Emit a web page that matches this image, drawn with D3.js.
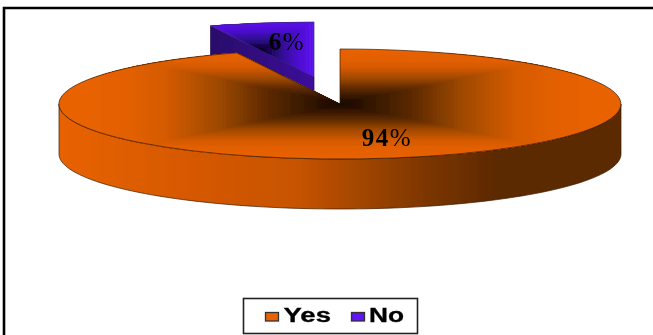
<!DOCTYPE html>
<html><head><meta charset="utf-8">
<script src="https://cdn.jsdelivr.net/npm/d3@7"></script>
<style>html,body{margin:0;padding:0;background:#fff}svg{display:block}</style>
</head><body><svg id="c" width="653" height="335"></svg>
<script>
const categories = ["Yes", "No"];
const values = [94, 6];
const labels = ["94%", "6%"];
const colors = ["#e86200", "#5f14f0"];
const W = 653, H = 335;
const cx = 340, cy = 104, rx = 281, ry = 55, depth = 50;
const noOffset = [-26, -27];

const svg = d3.select("#c");
const defs = svg.append("defs");
defs.append("filter").attr("id", "soft").attr("x", "-5%").attr("y", "-5%").attr("width", "110%").attr("height", "110%")
  .append("feGaussianBlur").attr("stdDeviation", 0.45);

// rectangular "path" shading: t = max(|x|/a, |y|/b)
const yesShade = d3.scaleLinear().domain([0, 0.1, 0.3, 0.5, 0.7, 0.85, 1])
  .range(["#140700", "#2c1300", "#5e2a00", "#a04a00", "#d45a00", "#e26000", "#e86200"]);
const noShade = d3.scaleLinear().domain([0, 0.15, 0.4, 0.7, 1])
  .range(["#0c0228", "#1c0658", "#340c96", "#4e10d0", "#5f14f0"]);
const sideShade = [[0, "#e86200"], [0.2, "#d85a00"], [0.42, "#c85300"], [0.52, "#a84800"], [0.66, "#7a3500"], [0.78, "#5c2900"], [1, "#5c2900"]];

const sl = defs.append("linearGradient").attr("id", "yesSide").attr("gradientUnits", "userSpaceOnUse")
  .attr("x1", -rx).attr("x2", rx).attr("y1", 0).attr("y2", 0);
sideShade.forEach(s => sl.append("stop").attr("offset", s[0]).attr("stop-color", s[1]));

const pie = d3.pie().value(d => d).sort(null);
const arcs = pie(values);
const arc = d3.arc().innerRadius(0).outerRadius(1);
const px = a => Math.sin(a) * rx, py = a => -Math.cos(a) * ry;
const lineFn = d3.line();

const nw = defs.append("linearGradient").attr("id", "noWall").attr("gradientUnits", "userSpaceOnUse")
  .attr("x1", px(arcs[1].startAngle)).attr("x2", 0).attr("y1", 0).attr("y2", 0);
[[0, "#280a68"], [1, "#3c0f9c"]].forEach(s => nw.append("stop").attr("offset", s[0]).attr("stop-color", s[1]));

function shadedSlice(g, d, id, shade, ccx, ccy, a, b, edge) {
  defs.append("clipPath").attr("id", id).append("path").attr("d", arc(d)).attr("transform", `scale(${rx},${ry})`);
  const inner = g.append("g").attr("clip-path", `url(#${id})`);
  inner.append("rect").attr("x", ccx - 2 * a).attr("y", ccy - 2 * b).attr("width", 4 * a).attr("height", 4 * b).attr("fill", shade(1));
  const steps = d3.range(1, 0, -1 / 70);
  inner.selectAll("rect.s").data(steps).join("rect").attr("class", "s")
    .attr("x", t => ccx - a * t).attr("y", t => ccy - b * t)
    .attr("width", t => 2 * a * t).attr("height", t => 2 * b * t)
    .attr("fill", t => shade(t));
  g.append("path").attr("d", arc(d)).attr("transform", `scale(${rx},${ry})`).attr("fill", "none")
    .attr("stroke", edge).attr("stroke-width", 0.7).attr("vector-effect", "non-scaling-stroke");
}

const chart = svg.append("g").attr("filter", "url(#soft)");

// No slice, pulled out of the pie
const no = arcs[1];
const g1 = chart.append("g").attr("transform", `translate(${cx + noOffset[0]},${cy + noOffset[1]})`);
g1.append("path").attr("fill", "url(#noWall)").attr("stroke", "#1c0650").attr("stroke-width", 0.7)
  .attr("d", lineFn([[px(no.startAngle), py(no.startAngle)], [0, 0], [0, depth], [px(no.startAngle), py(no.startAngle) + depth]]) + "Z");
const nxMin = px(no.startAngle), nxMax = 0, nyMin = -ry, nyMax = 0;
shadedSlice(g1, no, "noClip", noShade, (nxMin + nxMax) / 2, (nyMin + nyMax) / 2, (nxMax - nxMin) / 2, (nyMax - nyMin) / 2, "#3a2a70");

// Yes slice
const yes = arcs[0];
const front = d3.range(Math.PI / 2, 3 * Math.PI / 2 + 0.001, Math.PI / 90).map(a => [px(a), py(a)]);
const frontD = front.map(p => [p[0], p[1] + depth]).reverse();
const g0 = chart.append("g").attr("transform", `translate(${cx},${cy})`);
g0.append("path").attr("fill", "url(#yesSide)").attr("stroke", "#3a1a00").attr("stroke-width", 0.7)
  .attr("d", lineFn(front.concat(frontD)) + "Z");
shadedSlice(g0, yes, "yesClip", yesShade, 0, 0, 250, 52, "#3a1a00");

// data labels
const labelPos = [[387, 145.5], [287, 49.5]];
labels.forEach((t, i) => {
  const txt = chart.append("text").attr("x", labelPos[i][0]).attr("y", labelPos[i][1]).attr("text-anchor", "middle")
    .attr("font-family", "Liberation Serif").attr("font-size", 25).attr("fill", "#000").attr("letter-spacing", 1.5);
  txt.append("tspan").attr("font-weight", "bold").text(t.replace("%", ""));
  txt.append("tspan").text("%");
});

// frame
svg.append("path").attr("d", `M4,${H}V8H${W}`).attr("fill", "none").attr("stroke", "#000").attr("stroke-width", 2.6);

// legend
const legend = svg.append("g").attr("filter", "url(#soft)");
legend.append("rect").attr("x", 243.5).attr("y", 298.5).attr("width", 174).attr("height", 35)
  .attr("fill", "#fff").attr("stroke", "#222").attr("stroke-width", 1.6);
const swX = [265, 351], txtX = [283.5, 369], txtW = [47.5, 35];
categories.forEach((c, i) => {
  legend.append("rect").attr("x", swX[i] + 0.5).attr("y", 312.5).attr("width", 13).attr("height", 8.5)
    .attr("fill", colors[i]).attr("stroke", "#333").attr("stroke-width", 1.3);
  legend.append("text").attr("x", txtX[i]).attr("y", 322).attr("font-family", "Liberation Sans").attr("font-weight", "bold")
    .attr("font-size", 20).attr("textLength", txtW[i]).attr("lengthAdjust", "spacingAndGlyphs")
    .attr("stroke", "#000").attr("stroke-width", 0.3).attr("fill", "#000").text(c);
});
</script></body></html>
